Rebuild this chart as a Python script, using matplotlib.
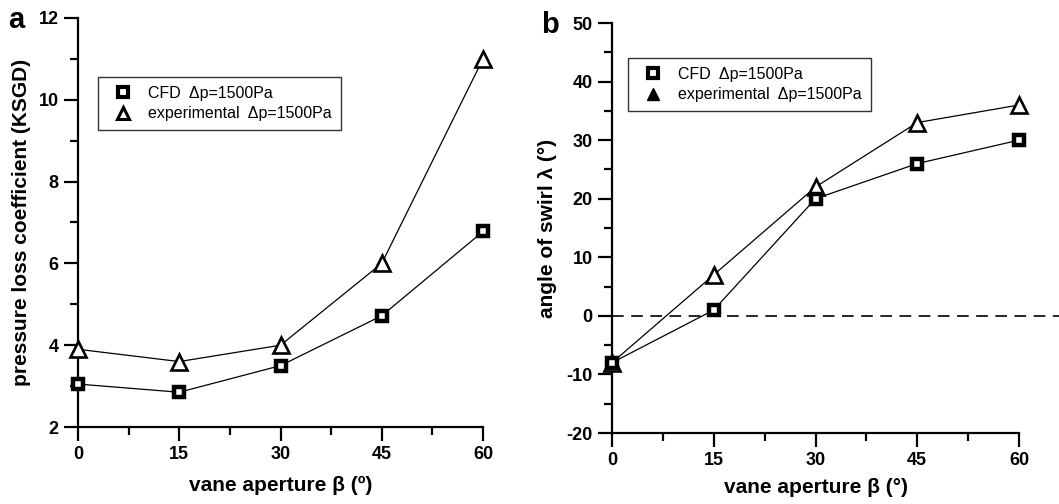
import matplotlib
matplotlib.use("Agg")
import matplotlib.pyplot as plt
from matplotlib.lines import Line2D
from matplotlib.ticker import MultipleLocator

plt.rcParams['font.family'] = ['Liberation Sans', 'DejaVu Sans']
plt.rcParams['axes.unicode_minus'] = False

beta = [0, 15, 30, 45, 60]
xticks = [0, 15, 30, 45, 60]

# panel a: pressure loss coefficient
ksgd_cfd = [3.05, 2.85, 3.5, 4.72, 6.78]
ksgd_exp = [3.9, 3.6, 4.0, 6.0, 11.0]

# panel b: angle of swirl
swirl_cfd = [-8, 1, 20, 26, 30]
swirl_exp = [-8, 7, 22, 33, 36]

lab_cfd = 'CFD  \u0394p=1500Pa'
lab_exp = 'experimental  \u0394p=1500Pa'

fig = plt.figure(figsize=(10.59, 5.04), dpi=100)
axa = fig.add_axes([78/1059, 1-427/504, 405/1059, 409/504])
axb = fig.add_axes([612/1059, 1-433/504, 407/1059, 410/504])

sq = dict(marker='s', markersize=7, markerfacecolor='white', markeredgecolor='black',
          markeredgewidth=3.2, color='black', linewidth=0.9, clip_on=False, zorder=3)
tr = dict(marker='^', markersize=11.5, markerfacecolor='white', markeredgecolor='black',
          markeredgewidth=1.9, color='black', linewidth=0.9, clip_on=False, zorder=3)


def style(ax):
    for s in ['top', 'right']:
        ax.spines[s].set_visible(False)
    for s in ['left', 'bottom']:
        ax.spines[s].set_linewidth(1.6)
    ax.tick_params(which='major', direction='out', length=10, width=1.6,
                   labelsize=13, pad=4)
    ax.tick_params(which='minor', direction='out', length=5.5, width=1.6)
    for t in ax.get_xticklabels() + ax.get_yticklabels():
        t.set_fontweight('bold')


def legend(ax, anchor, filled_tri):
    h = [Line2D([], [], linestyle='none', marker='s', markersize=7, markerfacecolor='white',
                markeredgecolor='black', markeredgewidth=3.0),
         Line2D([], [], linestyle='none', marker='^', markersize=8.5,
                markerfacecolor='black' if filled_tri else 'white',
                markeredgecolor='black', markeredgewidth=1.0 if filled_tri else 2.2)]
    leg = ax.legend(h, [lab_cfd, lab_exp], loc='upper left', bbox_to_anchor=anchor,
                    fontsize=11.5, frameon=True, fancybox=False, edgecolor='black',
                    borderpad=0.55, handlelength=2.0, handletextpad=0.6, labelspacing=0.35,
                    borderaxespad=0)
    leg.get_frame().set_linewidth(1.0)


# panel a
axa.plot(beta, ksgd_exp, **tr)
axa.plot(beta, ksgd_cfd, **sq)
axa.set_xlim(0, 60)
axa.set_ylim(2, 12)
axa.set_xticks(xticks)
axa.xaxis.set_minor_locator(MultipleLocator(7.5))
axa.yaxis.set_major_locator(MultipleLocator(2))
axa.yaxis.set_minor_locator(MultipleLocator(1))
style(axa)
axa.set_xlabel('vane aperture \u03b2 (\u00ba)', fontsize=15, fontweight='bold', labelpad=9)
axa.set_ylabel('pressure loss coefficient (KSGD)', fontsize=15, fontweight='bold', labelpad=5)
legend(axa, (0.049, 0.856), False)

# panel b
axb.plot([0, 66.5], [0, 0], color='black', linestyle=(0, (7, 4.5)), linewidth=1.2,
         clip_on=False, zorder=1)
axb.plot(beta, swirl_exp, **tr)
axb.plot(beta, swirl_cfd, **sq)
axb.set_xlim(0, 60)
axb.set_ylim(-20, 50)
axb.set_xticks(xticks)
axb.xaxis.set_minor_locator(MultipleLocator(7.5))
axb.yaxis.set_major_locator(MultipleLocator(10))
axb.yaxis.set_minor_locator(MultipleLocator(5))
style(axb)
axb.set_xlabel('vane aperture \u03b2 (\u00b0)', fontsize=15, fontweight='bold', labelpad=6)
axb.set_ylabel('angle of swirl \u03bb (\u00b0)', fontsize=15, fontweight='bold', labelpad=7)
legend(axb, (0.039, 0.915), True)

fig.text(8/1059, 1-28/504, 'a', fontsize=21, fontweight='bold', ha='left', va='baseline')
fig.text(541/1059, 1-33/504, 'b', fontsize=21, fontweight='bold', ha='left', va='baseline')

fig.savefig('out.png', dpi=100)
